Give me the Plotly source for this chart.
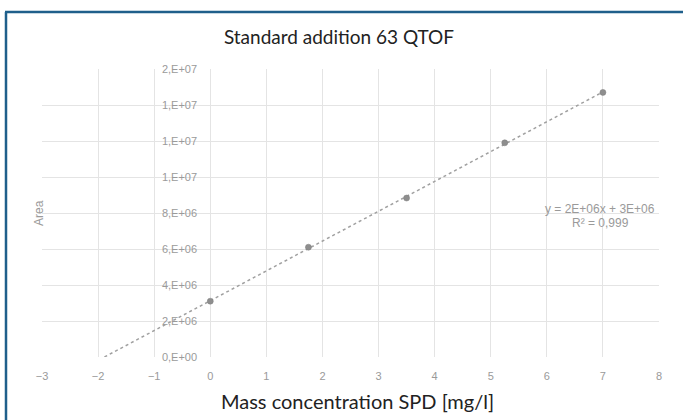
import numpy as np
import plotly.graph_objects as go

# Data
conc = [0, 1.75, 3.5, 5.25, 7.0]
area = [3.1e6, 6.1e6, 8.83e6, 11.9e6, 14.7e6]
y_ticks = [0, 2e6, 4e6, 6e6, 8e6, 1.0e7, 1.2e7, 1.4e7, 1.6e7]
y_ticktext = ["0,E+00", "2,E+06", "4,E+06", "6,E+06", "8,E+06", "1,E+07", "1,E+07", "1,E+07", "2,E+07"]
x_ticks = list(range(-3, 9))
equation_text = "y = 2E+06x + 3E+06"
r2_text = "R² = 0,999"

W, H = 683, 420
ML, MR, MT, MB = 42, 24, 69, 63
PW, PH = W - ML - MR, H - MT - MB

def px(x):
    return (x - ML) / PW

def py(y):
    return (H - MB - y) / PH

m, b = np.polyfit(conc, area, 1)
x0 = -b / m
tx = [x0, max(conc)]
ty = [m * v + b for v in tx]

fig = go.Figure()
fig.add_trace(go.Scatter(x=tx, y=ty, mode="lines",
                         line=dict(color="#a0a0a0", width=1.5, dash="dot"),
                         hoverinfo="skip", showlegend=False))
fig.add_trace(go.Scatter(x=conc, y=area, mode="markers",
                         marker=dict(color="#8e8e8e", size=6,
                                     line=dict(color="#7e7e7e", width=0.5)),
                         showlegend=False))

grey = "#9a9a9a"
tickfont = dict(family="Liberation Sans, Arial", size=11, color=grey)
fig.update_layout(
    width=W, height=H,
    margin=dict(l=ML, r=MR, t=MT, b=MB, pad=0),
    paper_bgcolor="white", plot_bgcolor="white",
    title=dict(text="Standard addition 63 QTOF", xref="container", x=339 / W,
               xanchor="center", yref="container", y=(H - 37) / H, yanchor="middle",
               font=dict(family="Lato", size=19, color="#222222")),
    xaxis=dict(range=[-3, 8], tickvals=x_ticks, showgrid=True,
               gridcolor="#e4e4e4", gridwidth=1, zeroline=False,
               showline=False, ticks="outside", ticklen=9,
               tickcolor="rgba(0,0,0,0)", tickfont=tickfont),
    yaxis=dict(range=[0, 1.6e7], tickvals=y_ticks, ticktext=y_ticktext,
               showgrid=True, gridcolor="#e4e4e4", gridwidth=1,
               zeroline=False, showline=False, ticks="outside", ticklen=11,
               tickcolor="rgba(0,0,0,0)",
               anchor="free", position=3 / 11, tickfont=tickfont),
    font=dict(family="Liberation Sans, Arial"),
    showlegend=False,
)

# Axis titles
fig.add_annotation(text="Mass concentration SPD [mg/l]", xref="paper", yref="paper",
                   x=px(357), y=py(401), showarrow=False,
                   xanchor="center", yanchor="middle",
                   font=dict(family="Lato", size=20, color="#222222"))
fig.add_annotation(text="Area", xref="paper", yref="paper", x=px(39), y=py(213),
                   textangle=-90, showarrow=False,
                   xanchor="center", yanchor="middle",
                   font=dict(family="Liberation Sans, Arial", size=12, color=grey))

# Trendline equation
fig.add_annotation(text=equation_text, xref="paper", yref="paper",
                   x=px(600), y=py(209), showarrow=False,
                   xanchor="center", yanchor="middle",
                   font=dict(family="Liberation Sans, Arial", size=12, color=grey))
fig.add_annotation(text=r2_text, xref="paper", yref="paper",
                   x=px(600), y=py(223), showarrow=False,
                   xanchor="center", yanchor="middle",
                   font=dict(family="Liberation Sans, Arial", size=12, color=grey))

# Frame border (left and top)
fig.add_shape(type="line", xref="paper", yref="paper",
              x0=px(6), y0=py(12), x1=px(6), y1=py(425),
              line=dict(color="#1f5f8b", width=2.5))
fig.add_shape(type="line", xref="paper", yref="paper",
              x0=px(5), y0=py(12), x1=px(690), y1=py(12),
              line=dict(color="#1f5f8b", width=2.5))

fig.write_html("out.html", config={"displayModeBar": False},
               post_script="document.body.style.margin='0';document.body.style.padding='0';")
